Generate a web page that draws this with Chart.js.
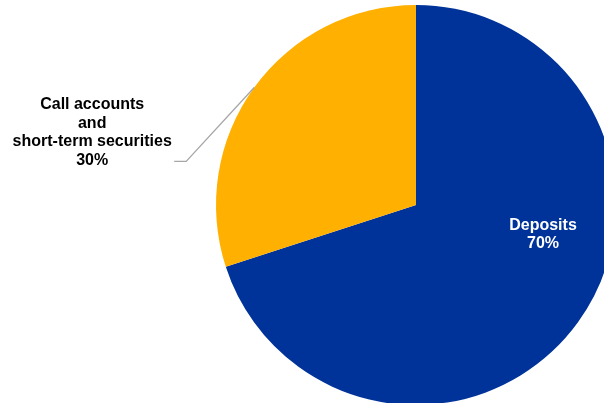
<!DOCTYPE html>
<html>
<head>
<meta charset="utf-8">
<script src="https://cdn.jsdelivr.net/npm/chart.js@4"></script>
<style>
  html, body { margin: 0; padding: 0; background: #fff; overflow: hidden; width: 604px; height: 403px; }
  #wrap { position: absolute; left: 0; top: 0; width: 832px; height: 410px; }
</style>
</head>
<body>
<div id="wrap"><canvas id="pie"></canvas></div>
<script>
// Portfolio split
const categories = ['Deposits', 'Call accounts\nand\nshort-term securities']
const shares = [70, 30]
const colors = ['#003399', '#FFB000']

// Draws the slice labels; the small slice gets an outside label with a leader line
const sliceLabels = {
  id: 'sliceLabels',
  afterDatasetsDraw(chart) {
    const ctx = chart.ctx
    const arcs = chart.getDatasetMeta(0).data
    ctx.save()
    ctx.font = 'bold 16px "Liberation Sans", Arial, sans-serif'
    ctx.textAlign = 'center'
    ctx.textBaseline = 'middle'
    const lineH = 18.5

    // Deposits - inside, white
    const a0 = arcs[0]
    const p0 = { x: a0.x + a0.outerRadius * 0.635, y: a0.y + a0.outerRadius * 0.148 }
    ctx.fillStyle = '#fff'
    const lines0 = [categories[0], shares[0] + '%']
    lines0.forEach((t, i) => ctx.fillText(t, p0.x, p0.y + (i - (lines0.length - 1) / 2) * lineH))

    // Call accounts - outside with leader line
    const a1 = arcs[1]
    const mid = (a1.startAngle + a1.endAngle) / 2
    const sx = a1.x + Math.cos(mid) * a1.outerRadius
    const sy = a1.y + Math.sin(mid) * a1.outerRadius
    const ex = sx - 68, ey = sy + 74
    ctx.strokeStyle = '#a6a6a6'
    ctx.lineWidth = 1.3
    ctx.beginPath()
    ctx.moveTo(sx, sy)
    ctx.lineTo(ex, ey)
    ctx.lineTo(ex - 12, ey)
    ctx.stroke()

    ctx.fillStyle = '#000'
    const lines1 = categories[1].split('\n').concat([shares[1] + '%'])
    const cx = ex - 94, cy = ey - 29
    lines1.forEach((t, i) => ctx.fillText(t, cx, cy + (i - (lines1.length - 1) / 2) * lineH))
    ctx.restore()
  }
}

new Chart(document.getElementById('pie'), {
  type: 'pie',
  data: {
    labels: categories,
    datasets: [{
      data: shares,
      backgroundColor: colors,
      borderWidth: 0,
      hoverOffset: 0
    }]
  },
  options: {
    responsive: true,
    maintainAspectRatio: false,
    animation: false,
    layout: { padding: 5 },
    plugins: {
      legend: { display: false },
      tooltip: { enabled: false }
    }
  },
  plugins: [sliceLabels]
})
</script>
</body>
</html>
